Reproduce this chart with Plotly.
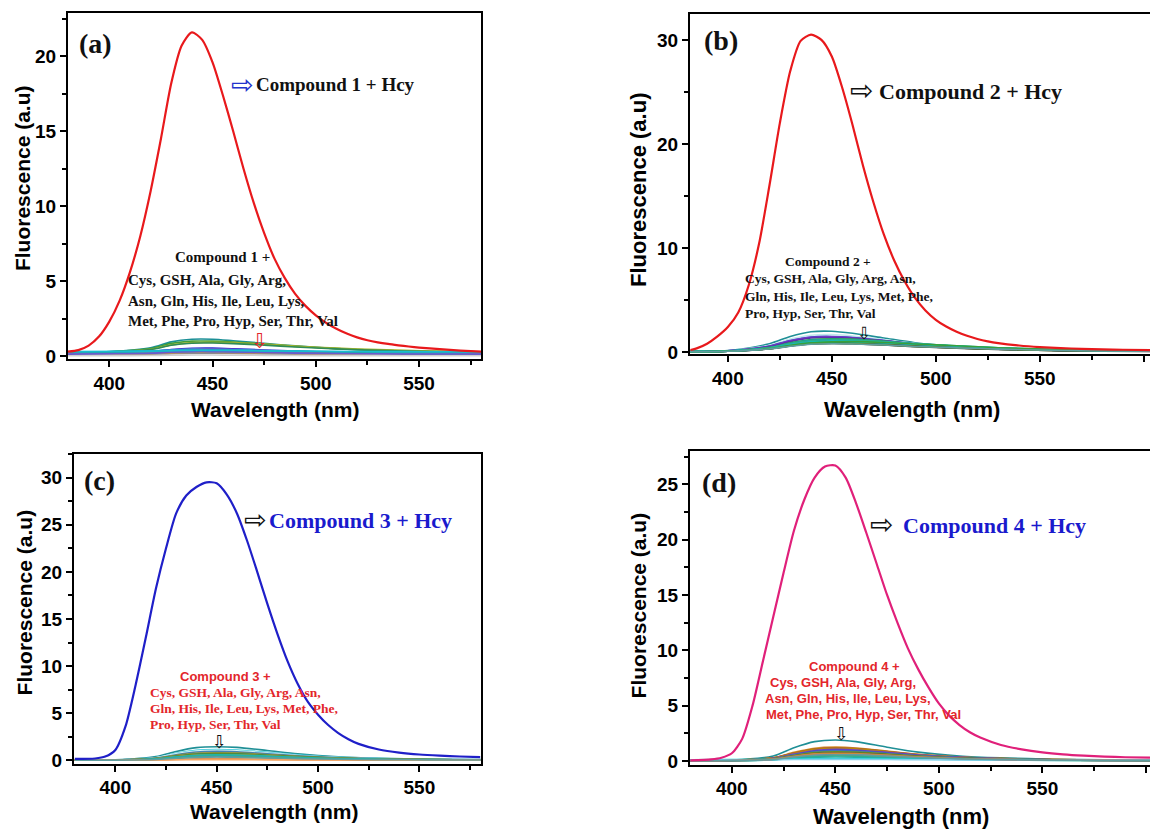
import plotly.graph_objects as go

W, H = 1150, 834

# ---------------- data ----------------
AMINO_ACIDS = ["Cys", "GSH", "Ala", "Gly", "Arg", "Asn", "Gln", "His", "Ile",
               "Leu", "Lys", "Met", "Phe", "Pro", "Hyp", "Ser", "Thr", "Val"]

# wavelength grid of the interferent spectra
WL_SMALL = [380, 400, 420, 430, 440, 450, 460, 475, 490, 510, 530, 555, 580, 603]

# (a) Compound 1
WL_A = [380, 385, 390, 395, 400, 405, 410, 415, 420, 425, 430, 435, 440, 445, 450, 455,
        460, 465, 470, 475, 480, 485, 490, 495, 500, 505, 510, 515, 520, 525, 530, 535,
        540, 545, 550, 560, 570, 580]
HCY_A = [0.3, 0.4, 0.7, 1.3, 2.3, 3.7, 5.6, 8.0, 11.0, 14.5, 18.2, 20.7, 21.6, 21.1, 19.6, 17.4,
         15.0, 12.5, 10.2, 8.2, 6.5, 5.2, 4.15, 3.35, 2.72, 2.22, 1.82, 1.5, 1.25, 1.06, 0.92, 0.81,
         0.72, 0.64, 0.57, 0.46, 0.37, 0.3]
INTERF_A = [
    [0.25, 0.3, 0.55, 0.95, 1.12, 1.12, 1.02, 0.85, 0.68, 0.5, 0.38, 0.3, 0.26, 0.24],
    [0.22, 0.28, 0.5, 0.85, 1.0, 1.0, 0.94, 0.8, 0.65, 0.5, 0.39, 0.31, 0.27, 0.24],
    [0.2, 0.27, 0.45, 0.75, 0.9, 0.92, 0.9, 0.8, 0.67, 0.53, 0.43, 0.34, 0.29, 0.26],
    [0.2, 0.26, 0.43, 0.72, 0.86, 0.87, 0.83, 0.73, 0.61, 0.48, 0.38, 0.31, 0.26, 0.23],
    [0.18, 0.21, 0.3, 0.44, 0.52, 0.53, 0.49, 0.41, 0.33, 0.26, 0.21, 0.18, 0.16, 0.15],
    [0.17, 0.2, 0.28, 0.4, 0.48, 0.48, 0.45, 0.37, 0.3, 0.23, 0.19, 0.16, 0.14, 0.13],
    [0.28, 0.3, 0.35, 0.41, 0.45, 0.44, 0.42, 0.37, 0.33, 0.3, 0.28, 0.27, 0.26, 0.25],
    [0.25, 0.27, 0.31, 0.36, 0.4, 0.4, 0.38, 0.34, 0.3, 0.27, 0.25, 0.24, 0.23, 0.22],
    [0.22, 0.24, 0.28, 0.33, 0.36, 0.36, 0.34, 0.31, 0.28, 0.25, 0.23, 0.22, 0.21, 0.2],
    [0.2, 0.22, 0.26, 0.31, 0.34, 0.34, 0.32, 0.29, 0.26, 0.23, 0.21, 0.2, 0.19, 0.18],
    [0.1, 0.12, 0.17, 0.24, 0.28, 0.28, 0.26, 0.22, 0.18, 0.15, 0.13, 0.12, 0.11, 0.1],
    [0.08, 0.1, 0.14, 0.2, 0.24, 0.24, 0.22, 0.19, 0.16, 0.13, 0.11, 0.1, 0.09, 0.09],
    [0.06, 0.08, 0.11, 0.16, 0.19, 0.19, 0.18, 0.15, 0.12, 0.1, 0.09, 0.08, 0.07, 0.07],
    [0.12, 0.14, 0.18, 0.23, 0.26, 0.26, 0.24, 0.21, 0.18, 0.15, 0.14, 0.13, 0.12, 0.12],
    [0.15, 0.17, 0.21, 0.27, 0.3, 0.3, 0.28, 0.25, 0.21, 0.18, 0.16, 0.15, 0.14, 0.14],
    [0.13, 0.15, 0.19, 0.26, 0.3, 0.3, 0.28, 0.24, 0.2, 0.17, 0.15, 0.14, 0.13, 0.13],
    [0.02, 0.03, 0.04, 0.06, 0.07, 0.07, 0.06, 0.05, 0.04, 0.03, 0.03, 0.02, 0.02, 0.02],
    [0.3, 0.31, 0.33, 0.36, 0.38, 0.38, 0.37, 0.35, 0.33, 0.31, 0.3, 0.29, 0.28, 0.28],
]

# (b) Compound 2
WL_B = [382, 385, 390, 395, 400, 405, 410, 415, 420, 425, 430, 435, 440, 445, 450, 455,
        460, 465, 470, 475, 480, 485, 490, 495, 500, 505, 510, 515, 520, 525, 530, 540,
        550, 560, 570, 580, 590, 603]
HCY_B = [0.2, 0.35, 0.8, 1.5, 2.4, 3.8, 6.4, 10.4, 16.0, 22.0, 27.0, 29.9, 30.5, 30.0, 28.4, 25.4,
         21.8, 17.9, 14.4, 11.3, 8.8, 6.8, 5.2, 4.0, 3.1, 2.45, 1.95, 1.56, 1.26, 1.03, 0.86, 0.63,
         0.48, 0.38, 0.31, 0.26, 0.22, 0.19]
INTERF_B = [
    [0.05, 0.15, 0.8, 1.5, 1.95, 2.0, 1.8, 1.35, 0.9, 0.55, 0.35, 0.2, 0.12, 0.1],
    [0.05, 0.13, 0.65, 1.25, 1.62, 1.68, 1.55, 1.2, 0.82, 0.5, 0.32, 0.18, 0.11, 0.09],
    [0.04, 0.12, 0.58, 1.1, 1.45, 1.5, 1.4, 1.1, 0.78, 0.48, 0.3, 0.17, 0.1, 0.08],
    [0.04, 0.12, 0.56, 1.08, 1.42, 1.47, 1.38, 1.1, 0.78, 0.48, 0.3, 0.17, 0.1, 0.08],
    [0.04, 0.11, 0.52, 1.0, 1.35, 1.4, 1.33, 1.08, 0.78, 0.5, 0.31, 0.18, 0.1, 0.08],
    [0.04, 0.1, 0.45, 0.88, 1.2, 1.28, 1.25, 1.05, 0.8, 0.55, 0.35, 0.2, 0.12, 0.09],
    [0.04, 0.1, 0.42, 0.82, 1.12, 1.2, 1.18, 1.0, 0.78, 0.55, 0.36, 0.21, 0.13, 0.1],
    [0.04, 0.1, 0.4, 0.78, 1.05, 1.12, 1.12, 0.98, 0.78, 0.56, 0.38, 0.22, 0.13, 0.1],
    [0.03, 0.09, 0.38, 0.72, 0.98, 1.05, 1.02, 0.88, 0.68, 0.48, 0.32, 0.19, 0.11, 0.09],
    [0.03, 0.09, 0.36, 0.7, 0.95, 1.02, 0.98, 0.84, 0.65, 0.45, 0.3, 0.18, 0.11, 0.08],
    [0.03, 0.08, 0.33, 0.62, 0.85, 0.9, 0.88, 0.76, 0.6, 0.42, 0.28, 0.17, 0.1, 0.08],
    [0.03, 0.08, 0.32, 0.6, 0.82, 0.87, 0.84, 0.72, 0.56, 0.4, 0.27, 0.16, 0.1, 0.08],
    [0.03, 0.08, 0.3, 0.58, 0.78, 0.83, 0.8, 0.68, 0.52, 0.37, 0.25, 0.15, 0.09, 0.07],
    [0.03, 0.08, 0.31, 0.6, 0.8, 0.85, 0.82, 0.7, 0.55, 0.4, 0.27, 0.16, 0.1, 0.08],
    [0.04, 0.1, 0.4, 0.75, 1.0, 1.08, 1.08, 0.96, 0.8, 0.6, 0.42, 0.25, 0.15, 0.11],
    [0.04, 0.09, 0.36, 0.68, 0.92, 1.0, 1.0, 0.9, 0.75, 0.58, 0.4, 0.24, 0.14, 0.1],
    [0.04, 0.09, 0.35, 0.66, 0.9, 0.98, 1.0, 0.92, 0.78, 0.6, 0.42, 0.26, 0.15, 0.11],
    [0.03, 0.08, 0.3, 0.55, 0.75, 0.8, 0.78, 0.68, 0.54, 0.4, 0.28, 0.17, 0.1, 0.08],
]

# (c) Compound 3
WL_C = [380, 390, 395, 400, 405, 410, 415, 420, 425, 430, 435, 440, 445, 450, 455, 460,
        465, 470, 475, 480, 485, 490, 495, 500, 505, 510, 515, 520, 530, 540, 550, 560,
        570, 580]
HCY_C = [0.15, 0.2, 0.4, 1.1, 3.6, 8.0, 13.0, 18.2, 22.5, 26.2, 28.1, 29.0, 29.5, 29.4, 28.2, 26.2,
         23.3, 20.0, 16.6, 13.4, 10.5, 8.1, 6.2, 4.85, 3.75, 2.9, 2.25, 1.75, 1.15, 0.82, 0.62, 0.5,
         0.41, 0.35]
INTERF_C = [
    [0.02, 0.05, 0.4, 0.95, 1.35, 1.45, 1.38, 1.05, 0.7, 0.38, 0.22, 0.12, 0.08, 0.07],
    [0.02, 0.04, 0.3, 0.75, 1.08, 1.15, 1.1, 0.85, 0.58, 0.32, 0.19, 0.11, 0.07, 0.06],
    [0.02, 0.04, 0.28, 0.7, 1.0, 1.07, 1.02, 0.78, 0.52, 0.3, 0.17, 0.1, 0.07, 0.06],
    [0.02, 0.04, 0.25, 0.6, 0.88, 0.95, 0.9, 0.7, 0.48, 0.28, 0.16, 0.1, 0.07, 0.06],
    [0.02, 0.04, 0.22, 0.52, 0.75, 0.8, 0.77, 0.6, 0.42, 0.25, 0.15, 0.09, 0.06, 0.05],
    [0.02, 0.04, 0.2, 0.48, 0.7, 0.75, 0.72, 0.56, 0.39, 0.23, 0.14, 0.08, 0.06, 0.05],
    [0.02, 0.04, 0.2, 0.46, 0.67, 0.72, 0.69, 0.54, 0.38, 0.23, 0.14, 0.08, 0.06, 0.05],
    [0.02, 0.03, 0.18, 0.43, 0.62, 0.67, 0.64, 0.5, 0.35, 0.21, 0.13, 0.08, 0.05, 0.05],
    [0.02, 0.03, 0.16, 0.38, 0.55, 0.6, 0.57, 0.45, 0.31, 0.19, 0.12, 0.07, 0.05, 0.04],
    [0.02, 0.03, 0.15, 0.35, 0.5, 0.55, 0.52, 0.41, 0.29, 0.18, 0.11, 0.07, 0.05, 0.04],
    [0.02, 0.03, 0.13, 0.3, 0.44, 0.48, 0.46, 0.36, 0.25, 0.16, 0.1, 0.06, 0.04, 0.04],
    [0.02, 0.03, 0.12, 0.27, 0.4, 0.43, 0.41, 0.32, 0.23, 0.14, 0.09, 0.06, 0.04, 0.04],
    [0.02, 0.03, 0.11, 0.25, 0.37, 0.4, 0.38, 0.3, 0.21, 0.13, 0.08, 0.05, 0.04, 0.03],
    [0.02, 0.03, 0.14, 0.33, 0.48, 0.52, 0.5, 0.4, 0.28, 0.17, 0.11, 0.07, 0.05, 0.04],
    [0.02, 0.03, 0.16, 0.37, 0.54, 0.58, 0.56, 0.45, 0.32, 0.2, 0.12, 0.08, 0.05, 0.04],
    [0.02, 0.03, 0.06, 0.1, 0.13, 0.14, 0.13, 0.11, 0.08, 0.06, 0.04, 0.03, 0.03, 0.02],
    [0.01, 0.02, 0.04, 0.06, 0.08, 0.08, 0.08, 0.06, 0.05, 0.04, 0.03, 0.02, 0.02, 0.02],
    [0.02, 0.03, 0.1, 0.22, 0.32, 0.35, 0.33, 0.26, 0.19, 0.12, 0.08, 0.05, 0.04, 0.03],
]

# (d) Compound 4
WL_D = [380, 390, 395, 400, 405, 410, 415, 420, 425, 430, 435, 440, 445, 450, 455, 460,
        465, 470, 475, 480, 485, 490, 495, 500, 505, 510, 515, 520, 530, 540, 550, 560,
        570, 580, 590, 602]
HCY_D = [0.05, 0.15, 0.3, 0.7, 2.0, 5.0, 9.0, 13.0, 17.0, 20.8, 23.6, 25.6, 26.6, 26.7, 25.6, 23.3,
         20.6, 17.8, 15.0, 12.5, 10.2, 8.3, 6.65, 5.2, 4.1, 3.25, 2.6, 2.12, 1.45, 1.05, 0.78, 0.6,
         0.48, 0.4, 0.34, 0.3]
INTERF_D = [
    [0.03, 0.08, 0.45, 1.2, 1.75, 1.9, 1.75, 1.25, 0.8, 0.45, 0.28, 0.16, 0.1, 0.08],
    [0.03, 0.06, 0.3, 0.78, 1.15, 1.25, 1.18, 0.9, 0.6, 0.36, 0.23, 0.14, 0.09, 0.07],
    [0.03, 0.06, 0.28, 0.72, 1.08, 1.18, 1.12, 0.86, 0.58, 0.34, 0.22, 0.13, 0.08, 0.07],
    [0.03, 0.06, 0.27, 0.7, 1.05, 1.15, 1.1, 0.84, 0.57, 0.34, 0.22, 0.13, 0.08, 0.07],
    [0.03, 0.05, 0.24, 0.62, 0.95, 1.05, 1.0, 0.78, 0.54, 0.33, 0.21, 0.12, 0.08, 0.06],
    [0.03, 0.05, 0.22, 0.57, 0.88, 0.97, 0.93, 0.73, 0.5, 0.31, 0.2, 0.12, 0.08, 0.06],
    [0.03, 0.05, 0.21, 0.54, 0.82, 0.9, 0.86, 0.68, 0.47, 0.29, 0.19, 0.11, 0.07, 0.06],
    [0.03, 0.05, 0.2, 0.5, 0.76, 0.84, 0.8, 0.63, 0.44, 0.27, 0.18, 0.11, 0.07, 0.06],
    [0.02, 0.05, 0.18, 0.45, 0.68, 0.75, 0.72, 0.57, 0.4, 0.25, 0.16, 0.1, 0.07, 0.05],
    [0.02, 0.04, 0.15, 0.38, 0.57, 0.63, 0.6, 0.48, 0.34, 0.21, 0.14, 0.09, 0.06, 0.05],
    [0.02, 0.04, 0.13, 0.32, 0.48, 0.53, 0.5, 0.4, 0.29, 0.18, 0.12, 0.08, 0.05, 0.04],
    [0.02, 0.04, 0.12, 0.28, 0.42, 0.46, 0.44, 0.35, 0.25, 0.16, 0.11, 0.07, 0.05, 0.04],
    [0.02, 0.03, 0.1, 0.22, 0.33, 0.36, 0.34, 0.27, 0.2, 0.13, 0.09, 0.06, 0.04, 0.04],
    [0.12, 0.13, 0.15, 0.17, 0.19, 0.2, 0.19, 0.17, 0.16, 0.14, 0.13, 0.12, 0.12, 0.12],
    [0.08, 0.09, 0.11, 0.13, 0.15, 0.15, 0.15, 0.13, 0.12, 0.1, 0.09, 0.09, 0.08, 0.08],
    [0.02, 0.04, 0.16, 0.4, 0.6, 0.66, 0.63, 0.5, 0.36, 0.22, 0.15, 0.09, 0.06, 0.05],
    [0.02, 0.04, 0.17, 0.43, 0.64, 0.7, 0.67, 0.53, 0.38, 0.23, 0.15, 0.09, 0.06, 0.05],
    [0.02, 0.04, 0.14, 0.35, 0.52, 0.57, 0.55, 0.44, 0.31, 0.19, 0.13, 0.08, 0.05, 0.04],
]

# ---------------- styles ----------------
COLORS_A = ["#1b8f96", "#3c9d3c", "#a3b32a", "#2e8b57", "#2a2ad0", "#7b3fc4", "#23b5d3", "#3f7fbf",
            "#5fa8d3", "#20a0a0", "#8c564b", "#c0504d", "#8a8a8a", "#d98c3a", "#4a90c8", "#6a5acd",
            "#cfcfcf", "#17becf"]
COLORS_B = ["#1f8f96", "#bfe8ec", "#2b3fc0", "#7a3cc8", "#5b2db0", "#2ca05a", "#18a4a8", "#3cb371",
            "#2e8b8b", "#4169e1", "#2f6f4f", "#555555", "#1a1a1a", "#6b8e23", "#20b2aa", "#00ced1",
            "#3a9f3a", "#5f9ea0"]
COLORS_C = ["#1f8f96", "#33c7d9", "#d8f2f4", "#4682b4", "#8c8c2a", "#b59b3c", "#2e8b57", "#6b8e23",
            "#e08a2c", "#cd853f", "#8b5a2b", "#a0522d", "#708090", "#3cb371", "#20b2aa", "#d2691e",
            "#f4a460", "#5f9ea0"]
COLORS_D = ["#1f8f96", "#d98c2a", "#a0522d", "#b8860b", "#7b3fc4", "#3a4fc0", "#4682b4", "#6b8e23",
            "#556b2f", "#2ca02c", "#2f4f4f", "#3cb371", "#20b2aa", "#00ced1", "#87ceeb", "#9370db",
            "#cd853f", "#5f9ea0"]

TIMES = "Liberation Serif, Times New Roman, serif"
ARIAL = "Liberation Sans, Arial, sans-serif"
SYM = "DejaVu Sans"
RED_TXT = "#e3262b"
BLUE_TXT = "#1a1acd"


def px(x):
    return x / W


def py(y):
    return 1 - y / H


fig = go.Figure()

panels = [
    dict(n="", wl=WL_A, main=HCY_A, mcolor="#e8191c", interf=INTERF_A, colors=COLORS_A),
    dict(n="2", wl=WL_B, main=HCY_B, mcolor="#e8191c", interf=INTERF_B, colors=COLORS_B),
    dict(n="3", wl=WL_C, main=HCY_C, mcolor="#1f1fc8", interf=INTERF_C, colors=COLORS_C),
    dict(n="4", wl=WL_D, main=HCY_D, mcolor="#e0207a", interf=INTERF_D, colors=COLORS_D),
]

for p in panels:
    xa = "x" + p["n"]
    ya = "y" + p["n"]
    for name, vals, col in zip(AMINO_ACIDS, p["interf"], p["colors"]):
        fig.add_trace(go.Scatter(x=WL_SMALL, y=vals, mode="lines", name=name,
                                 line=dict(color=col, width=1.6, shape="spline", smoothing=0.8),
                                 xaxis=xa, yaxis=ya, showlegend=False, hoverinfo="skip"))
    fig.add_trace(go.Scatter(x=p["wl"], y=p["main"], mode="lines", name="Hcy",
                             line=dict(color=p["mcolor"], width=2.2, shape="spline", smoothing=0.7),
                             xaxis=xa, yaxis=ya, showlegend=False, hoverinfo="skip"))

TICKFONT = dict(family=ARIAL, size=19, color="black", weight="bold")


def xaxis(dom, rng, anchor):
    return dict(domain=dom, range=rng, anchor=anchor, showline=True, linewidth=2,
                linecolor="black", mirror=True, ticks="outside", ticklen=6, tickwidth=2,
                tickcolor="black", tickmode="linear", tick0=400, dtick=50,
                minor=dict(ticks="outside", ticklen=4, tickwidth=1.5, tickcolor="black",
                           tickmode="linear", tick0=400, dtick=25),
                showgrid=False, zeroline=False, tickfont=TICKFONT)


def yaxis(dom, rng, anchor, dt, mirror):
    return dict(domain=dom, range=rng, anchor=anchor, showline=True, linewidth=2,
                linecolor="black", mirror=mirror, ticks="outside", ticklen=6, tickwidth=2,
                tickcolor="black", tickmode="linear", tick0=0, dtick=dt,
                minor=dict(ticks="outside", ticklen=4, tickwidth=1.5, tickcolor="black",
                           tickmode="linear", tick0=0, dtick=dt / 2),
                showgrid=False, zeroline=False, tickfont=TICKFONT)


fig.update_layout(
    width=W, height=H, margin=dict(l=0, r=0, t=0, b=0),
    paper_bgcolor="white", plot_bgcolor="white", showlegend=False,
    xaxis=xaxis([px(68), px(481)], [380, 580], "y"),
    yaxis=yaxis([py(363), py(13)], [-0.2, 22.9], "x", 5, True),
    xaxis2=xaxis([px(690), 1.0], [381.8, 603], "y2"),
    yaxis2=yaxis([py(358), py(14)], [-0.2, 32.5], "x2", 10, False),
    xaxis3=xaxis([px(74), px(481)], [379.6, 580.4], "y3"),
    yaxis3=yaxis([py(772), py(459)], [-0.35, 32.5], "x3", 5, True),
    xaxis4=xaxis([px(690), 1.0], [379.8, 602], "y4"),
    yaxis4=yaxis([py(773), py(456)], [-0.33, 28.0], "x4", 5, False),
)

anns = []


def ann(text, x, y, size, color="black", family=TIMES, xanchor="center", angle=0):
    anns.append(dict(text=text, x=px(x), y=py(y), xref="paper", yref="paper",
                     xanchor=xanchor, yanchor="middle", showarrow=False, textangle=angle,
                     font=dict(family=family, size=size, color=color)))


# panel labels
ann("<b>(a)</b>", 95, 44, 28, "#111111")
ann("<b>(b)</b>", 721, 41, 28, "#111111")
ann("<b>(c)</b>", 99, 486, 28, "#111111")
ann("<b>(d)</b>", 719, 488, 28, "#111111")

# axis titles
for (cx, cy, s) in [(275, 414, 21), (912, 414, 22), (274, 820, 21), (901, 825, 22)]:
    ann("<b>Wavelength (nm)</b>", cx, cy, s, "black", ARIAL)
for (cx, cy, s) in [(22, 180, 21), (639, 192, 22), (24, 609, 21), (638, 612, 21)]:
    ann("<b>Fluorescence (a.u)</b>", cx, cy, s, "black", ARIAL, angle=-90)

# Hcy labels with hollow arrows
ann("⇨", 242, 85, 27, "#2233cc", SYM)
ann("<b>Compound 1 + Hcy</b>", 254, 85, 19, "#111111", TIMES, "left")
ann("⇨", 861, 91, 28, "#111111", SYM)
ann("<b>Compound 2 + Hcy</b>", 877, 92, 22, "#111111", TIMES, "left")
ann("⇨", 255, 525, 27, "#111111", SYM)
ann("<b>Compound 3 + Hcy</b>", 267, 526, 22, BLUE_TXT, TIMES, "left")
ann("⇨", 881, 530, 28, "#111111", SYM)
ann("<b>Compound 4 + Hcy</b>", 901, 531, 22, BLUE_TXT, TIMES, "left")

# interferent labels
ann("<b>Compound 1 +</b>", 222, 260, 15, "#111111")
ann("<b>Cys, GSH, Ala, Gly, Arg,</b>", 126, 283, 15, "#111111", TIMES, "left")
ann("<b>Asn, Gln, His, Ile, Leu, Lys,</b>", 126, 304, 15, "#111111", TIMES, "left")
ann("<b>Met, Phe, Pro, Hyp, Ser, Thr, Val</b>", 126, 324, 15, "#111111", TIMES, "left")
ann("⇩", 260, 345, 21, "#e3262b", SYM)

ann("<b>Compound 2 +</b>", 828, 264, 13.5, "#111111")
ann("<b>Cys, GSH, Ala, Gly, Arg, Asn,</b>", 743, 282, 13.5, "#111111", TIMES, "left")
ann("<b>Gln, His, Ile, Leu, Lys, Met, Phe,</b>", 743, 300, 13.5, "#111111", TIMES, "left")
ann("<b>Pro, Hyp, Ser, Thr, Val</b>", 743, 317, 13.5, "#111111", TIMES, "left")
ann("⇩", 864, 337, 17, "#111111", SYM)

ann("<b>Compound 3 +</b>", 225, 684, 13, RED_TXT, ARIAL)
ann("<b>Cys, GSH, Ala, Gly, Arg, Asn,</b>", 148, 700, 13.5, RED_TXT, TIMES, "left")
ann("<b>Gln, His, Ile, Leu, Lys, Met, Phe,</b>", 148, 716, 13.5, RED_TXT, TIMES, "left")
ann("<b>Pro, Hyp, Ser, Thr, Val</b>", 148, 732, 13.5, RED_TXT, TIMES, "left")
ann("⇩", 219, 750, 18, "#111111", SYM)

ann("<b>Compound 4 +</b>", 854, 674, 13, RED_TXT, ARIAL)
ann("<b>Cys, GSH, Ala, Gly, Arg,</b>", 843, 690, 13, RED_TXT, ARIAL)
ann("<b>Asn, Gln, His, Ile, Leu, Lys,</b>", 848, 706, 13, RED_TXT, ARIAL)
ann("<b>Met, Phe, Pro, Hyp, Ser, Thr, Val</b>", 864, 722, 13, RED_TXT, ARIAL)
ann("⇩", 841, 742, 18, "#111111", SYM)

fig.update_layout(annotations=anns)

fig.write_html("out.html")
